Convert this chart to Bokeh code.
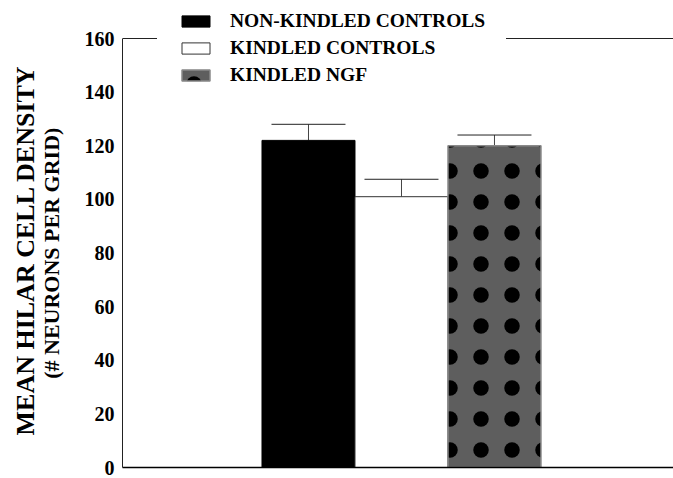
from bokeh.plotting import figure
from bokeh.models import (ColumnDataSource, Range1d, FixedTicker, Whisker, Span,
                          TeeHead, Title, Legend, LegendItem)
from bokeh.embed import file_html
from bokeh.resources import INLINE

# ---- data ----
groups = ["NON-KINDLED CONTROLS", "KINDLED CONTROLS", "KINDLED NGF"]
means = [122, 101, 120]
errors = [6, 6.5, 4]
y_ticks = [0, 20, 40, 60, 80, 100, 120, 140, 160]
y_max = 160
title_line1 = "MEAN HILAR CELL DENSITY"
title_line2 = "(# NEURONS PER GRID)"

FONT = "Liberation Serif"

p = figure(frame_width=551, frame_height=467, output_backend="svg", toolbar_location=None,
           x_range=Range1d(0, 5.925), y_range=Range1d(0, y_max * 467 / 429),
           min_border_left=122, min_border_top=0, min_border_right=0, min_border_bottom=11)
p.grid.visible = False
p.outline_line_color = None
p.background_fill_color = "white"
p.border_fill_color = "white"

xs = [i + 2 for i in range(len(groups))]
uppers = [m + e for m, e in zip(means, errors)]
src = ColumnDataSource(dict(x=xs, top=means, upper=uppers))

styles = [
    dict(fill_color="black", line_color="black", line_width=1),
    dict(fill_color="white", line_color="#333333", line_width=1),
    dict(fill_color="#5e5e5e", line_color="#8a8a8a", line_width=1.5,
         hatch_pattern="dot", hatch_color="black", hatch_scale=31, hatch_weight=1),
]
renderers = []
for i, g in enumerate(groups):
    r = p.vbar(x=[xs[i]], top=[means[i]], width=1.0, bottom=0, **styles[i])
    renderers.append(r)

p.add_layout(Whisker(source=src, base="x", lower="top", upper="upper",
                     line_color="#444444", line_width=1,
                     lower_head=None,
                     upper_head=TeeHead(size=74, line_color="#222222", line_width=1)))

# top frame line at the axis maximum
p.add_layout(Span(location=y_max, dimension="width", line_color="#222222", line_width=1))

# axes
p.yaxis.ticker = FixedTicker(ticks=y_ticks)
p.yaxis.bounds = (0, y_max)
p.yaxis.major_tick_line_color = None
p.yaxis.major_tick_out = 0
p.yaxis.major_tick_in = 0
p.yaxis.minor_tick_line_color = None
p.yaxis.minor_tick_out = 0
p.yaxis.major_label_text_font = FONT
p.yaxis.major_label_text_font_style = "bold"
p.yaxis.major_label_text_font_size = "20px"
p.yaxis.major_label_text_color = "black"
p.yaxis.major_label_standoff = 8
p.yaxis.axis_line_color = "#222222"
p.yaxis.axis_line_width = 1
# trailing no-break spaces move the centred label down to the centre of 0..160
p.yaxis.axis_label = title_line2 + "\u00a0" * 7
p.yaxis.axis_label_text_font = FONT
p.yaxis.axis_label_text_font_style = "bold"
p.yaxis.axis_label_text_font_size = "22px"
p.yaxis.axis_label_text_color = "black"
p.yaxis.axis_label_standoff = 18

p.xaxis.major_tick_line_color = None
p.xaxis.major_tick_out = 0
p.xaxis.minor_tick_line_color = None
p.xaxis.minor_tick_out = 0
p.xaxis.major_label_text_font_size = "0px"
p.xaxis.axis_line_color = "black"
p.xaxis.axis_line_width = 1.5

p.add_layout(Title(text=title_line1, text_font=FONT, text_font_style="bold",
                   text_font_size="26px", align="left", offset=32, standoff=-8,
                   text_color="black"), "left")

legend = Legend(items=[LegendItem(label=g, renderers=[r]) for g, r in zip(groups, renderers)],
                location=(35, 360), orientation="vertical",
                label_text_font=FONT, label_text_font_style="bold", label_text_font_size="19.5px",
                label_text_color="black", glyph_width=35, glyph_height=14, label_standoff=17,
                label_height=22, spacing=5, padding=20, margin=0,
                border_line_color="white", border_line_width=1,
                background_fill_color="white", background_fill_alpha=1)
p.add_layout(legend)

open("out.html", "w").write(file_html(p, INLINE))
